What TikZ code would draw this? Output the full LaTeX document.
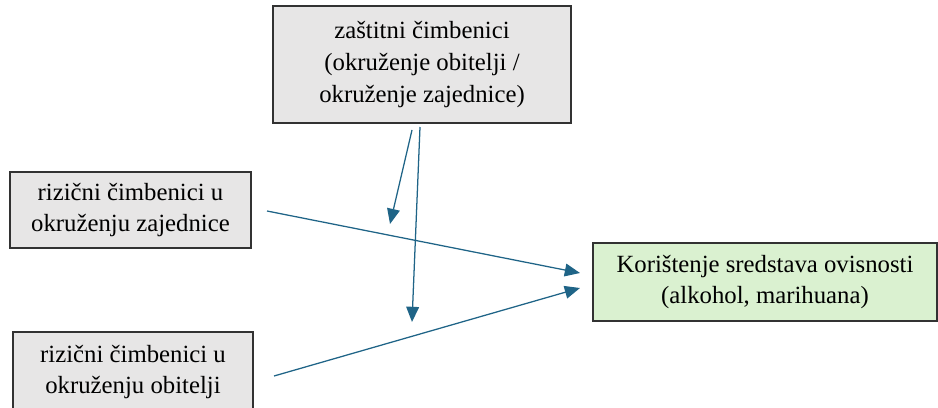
\documentclass[tikz,border=0pt]{standalone}
\usepackage{fontspec}
\setmainfont{Liberation Serif}
\usetikzlibrary{arrows.meta, positioning}
\definecolor{boxgray}{RGB}{231,230,230}
\definecolor{boxgreen}{RGB}{218,241,208}
\definecolor{arrowblue}{RGB}{31,100,135}
\definecolor{edgegray}{RGB}{50,50,50}
\tikzset{
    faktor/.style={draw=edgegray, line width=1.2pt, fill=boxgray, align=center,
        inner sep=0pt, font=\fontsize{17.6}{22.5}\selectfont},
    veza/.style={draw=arrowblue, line width=0.9pt,
        -{Triangle[length=0.38cm, width=0.32cm]}}
}
\begin{document}
\begin{tikzpicture}[x=0.025cm, y=-0.025cm]
    \useasboundingbox (0,0) rectangle (938,407);
    % boxes
    \node[faktor, minimum width=298*0.025cm, minimum height=117*0.025cm] (zastita) at (422,64.5)
        {zaštitni čimbenici\\(okruženje obitelji /\\okruženje zajednice)};
    \node[faktor, minimum width=241*0.025cm, minimum height=76*0.025cm] (rizZaj) at (130.5,210)
        {rizični čimbenici u\\okruženju zajednice};
    \node[faktor, minimum width=240*0.025cm, minimum height=80*0.025cm] (rizObi) at (133,372)
        {rizični čimbenici u\\okruženju obitelji};
    \node[faktor, fill=boxgreen, minimum width=344*0.025cm, minimum height=78*0.025cm] (ishod) at (765,282)
        {Korištenje sredstava ovisnosti\\(alkohol, marihuana)};
    % arrow ends
    \coordinate (z1) at (267,211);
    \coordinate (z2) at (580,273);
    \coordinate (o1) at (274,376);
    \coordinate (o2) at (580,288);
    \coordinate (m1) at (412,130);
    \coordinate (m2) at (390,224);
    \coordinate (n1) at (420,127);
    \coordinate (n2) at (412,322);
    \draw[veza] (z1) -- (z2);
    \draw[veza] (o1) -- (o2);
    \draw[veza] (m1) -- (m2);
    \draw[veza] (n1) -- (n2);
\end{tikzpicture}
\end{document}
